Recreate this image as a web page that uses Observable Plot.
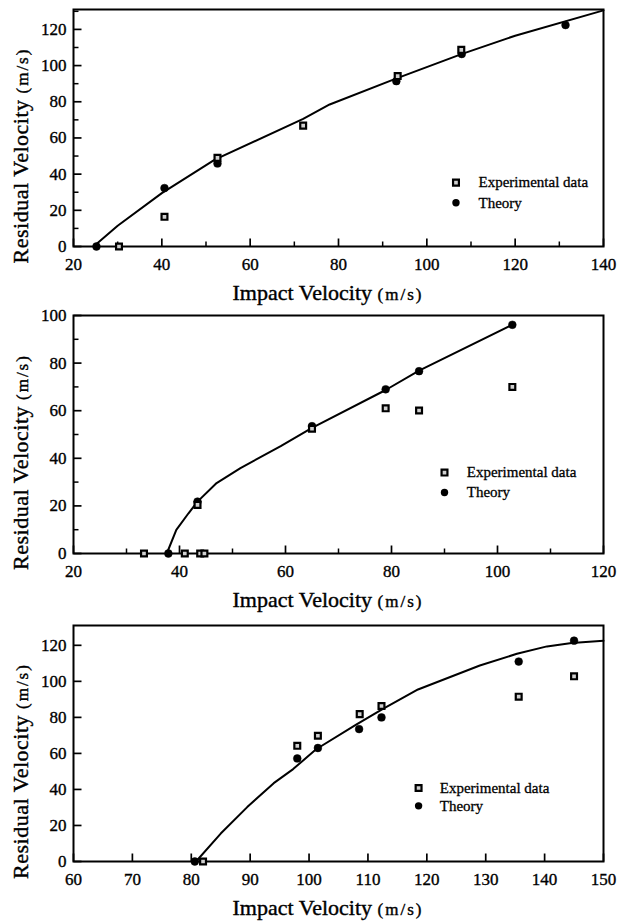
<!DOCTYPE html>
<html>
<head>
<meta charset="utf-8">
<script src="https://cdn.jsdelivr.net/npm/d3@7"></script>
<script src="https://cdn.jsdelivr.net/npm/@observablehq/plot@0.6"></script>
<style>
  html, body { margin: 0; padding: 0; background: #fff; }
  #chart { width: 621px; }
  #chart svg { display: block; }
</style>
</head>
<body>
<div id="chart"></div>
<script>
const p1CurveX = [25, 30, 40, 52, 72, 78, 93, 108, 120, 140];
const p1CurveY = [1, 11.5, 29.5, 48, 70.5, 78.5, 92.8, 106.5, 116.5, 130.5];
const p1ExpX = [30.3, 40.6, 52.6, 72.0, 93.4, 107.8];
const p1ExpY = [0, 16.4, 49.0, 66.8, 94.2, 108.7];
const p1TheoryX = [25.2, 40.6, 52.6, 93.1, 107.9, 131.4];
const p1TheoryY = [0, 32.3, 45.9, 91.4, 106.4, 122.4];
const p1XTicks = [20, 40, 60, 80, 100, 120, 140];
const p1XMinor = [30, 50, 70, 90, 110, 130];
const p1YTicks = [0, 20, 40, 60, 80, 100, 120];
const p1YMinor = [10, 30, 50, 70, 90, 110, 130];

const p2CurveX = [37.6, 39.4, 41.7, 43.4, 47, 51.5, 59.1, 65, 78.9, 85.2, 102.8];
const p2CurveY = [0, 9.9, 16.9, 21.8, 29.6, 35.9, 45.1, 52.8, 68.7, 76.8, 96.1];
const p2ExpX = [33.3, 41.0, 43.9, 44.7, 43.4, 65.0, 78.9, 85.2, 102.8];
const p2ExpY = [0, 0, 0, 0, 20.4, 52.4, 61.0, 60.1, 70.0];
const p2TheoryX = [37.9, 43.4, 65.0, 78.9, 85.2, 102.8];
const p2TheoryY = [0, 21.8, 53.5, 69.0, 76.6, 96.1];
const p2XTicks = [20, 40, 60, 80, 100, 120];
const p2XMinor = [30, 50, 70, 90, 110];
const p2YTicks = [0, 20, 40, 60, 80, 100];
const p2YMinor = [10, 30, 50, 70, 90];

const p3CurveX = [80.8, 85, 89.5, 94, 97.3, 101.2, 108, 112.4, 118.5, 129, 135.3, 140.4, 144.6, 150];
const p3CurveY = [0, 15.5, 30.2, 43.5, 51.3, 62.3, 76, 84.5, 95.5, 108.8, 115.3, 119.4, 121.3, 122.5];
const p3ExpX = [82.0, 98.0, 101.5, 108.6, 112.3, 135.6, 145.0];
const p3ExpY = [0, 64.2, 69.8, 81.8, 86.3, 91.5, 102.8];
const p3TheoryX = [80.6, 98.0, 101.5, 108.5, 112.3, 135.6, 145.0];
const p3TheoryY = [0, 57.2, 63.0, 73.5, 80.0, 111.0, 122.6];
const p3XTicks = [60, 70, 80, 90, 100, 110, 120, 130, 140, 150];
const p3XMinor = [];
const p3YTicks = [0, 20, 40, 60, 80, 100, 120];
const p3YMinor = [];

const legendLabels = ["Experimental data", "Theory"];
const xTitle = "Impact Velocity";
const yTitle = "Residual Velocity";
const unit = "(m/s)";

const FONT = "'Liberation Serif', 'Times New Roman', 'DejaVu Serif', serif";
const W = 621, ML = 73, MR = 18;

const panels = [
  {height: 307, mt: 9, mb: 61, xDomain: [20, 140], yDomain: [0, 131],
   curveX: p1CurveX, curveY: p1CurveY, expX: p1ExpX, expY: p1ExpY, thX: p1TheoryX, thY: p1TheoryY,
   xTicks: p1XTicks, xMinor: p1XMinor, yTicks: p1YTicks, yMinor: p1YMinor,
   legX: 106.6, legTextX: 111.7, legY: [35.3, 24.2]},
  {height: 307, mt: 8, mb: 61, xDomain: [20, 120], yDomain: [0, 100],
   curveX: p2CurveX, curveY: p2CurveY, expX: p2ExpX, expY: p2ExpY, thX: p2TheoryX, thY: p2TheoryY,
   xTicks: p2XTicks, xMinor: p2XMinor, yTicks: p2YTicks, yMinor: p2YMinor,
   legX: 90.0, legTextX: 94.2, legY: [34.0, 25.6]},
  {height: 308, mt: 11, mb: 61, xDomain: [60, 150], yDomain: [0, 131],
   curveX: p3CurveX, curveY: p3CurveY, expX: p3ExpX, expY: p3ExpY, thX: p3TheoryX, thY: p3TheoryY,
   xTicks: p3XTicks, xMinor: p3XMinor, yTicks: p3YTicks, yMinor: p3YMinor,
   legX: 118.6, legTextX: 122.2, legY: [40.8, 30.9]}
];

const chart = document.getElementById("chart");

for (const cfg of panels) {
  const innerH = cfg.height - cfg.mt - cfg.mb;
  const innerW = W - ML - MR;
  const [x0, x1] = cfg.xDomain;
  const [y0, y1] = cfg.yDomain;
  // inward tick lengths (8px major, 5px minor) expressed in data units
  const dyMajor = 8 / innerH * (y1 - y0), dyMinor = 5 / innerH * (y1 - y0);
  const dxMajor = 8 / innerW * (x1 - x0), dxMinor = 5 / innerW * (x1 - x0);

  const curve = cfg.curveX.map((x, i) => ({x, y: cfg.curveY[i]}));
  const exp = cfg.expX.map((x, i) => ({x, y: cfg.expY[i]}));
  const th = cfg.thX.map((x, i) => ({x, y: cfg.thY[i]}));
  const legSq = [{x: cfg.legX, y: cfg.legY[0]}];
  const legTh = [{x: cfg.legX, y: cfg.legY[1]}];
  const legText = legendLabels.map((t, i) => ({x: cfg.legTextX, y: cfg.legY[i], t}));
  const xMaj = cfg.xTicks.map(v => ({v})), xMin = cfg.xMinor.map(v => ({v}));
  const yMaj = cfg.yTicks.map(v => ({v})), yMin = cfg.yMinor.map(v => ({v}));

  const plot = Plot.plot({
    width: W,
    height: cfg.height,
    marginLeft: ML,
    marginRight: MR,
    marginTop: cfg.mt,
    marginBottom: cfg.mb,
    style: {fontFamily: FONT, background: "white", color: "black", overflow: "visible"},
    x: {domain: cfg.xDomain, label: null},
    y: {domain: cfg.yDomain, label: null},
    marks: [
      Plot.axisX({ticks: cfg.xTicks, tickSize: 0, tickPadding: 11, fontSize: 17, label: null,
                  tickFormat: d => String(d)}),
      Plot.axisY({ticks: cfg.yTicks, tickSize: 0, tickPadding: 7, fontSize: 17, label: null,
                  tickFormat: d => String(d)}),
      Plot.link(xMaj, {x1: "v", x2: "v", y1: () => y0, y2: () => y0 + dyMajor, stroke: "black", strokeWidth: 1.7}),
      Plot.link(xMin, {x1: "v", x2: "v", y1: () => y0, y2: () => y0 + dyMinor, stroke: "black", strokeWidth: 1.5}),
      Plot.link(yMaj, {y1: "v", y2: "v", x1: () => x0, x2: () => x0 + dxMajor, stroke: "black", strokeWidth: 1.7}),
      Plot.link(yMin, {y1: "v", y2: "v", x1: () => x0, x2: () => x0 + dxMinor, stroke: "black", strokeWidth: 1.5}),
      Plot.frame({stroke: "black", strokeWidth: 2}),
      Plot.line(curve, {x: "x", y: "y", stroke: "black", strokeWidth: 2}),
      Plot.dot(th, {x: "x", y: "y", r: 3.9, fill: "black", stroke: "black", strokeWidth: 0.5}),
      Plot.dot(exp, {x: "x", y: "y", symbol: "square", r: 3.3, fill: "#d0d0d0", stroke: "black", strokeWidth: 2.2}),
      Plot.dot(legSq, {x: "x", y: "y", symbol: "square", r: 3.3, fill: "#d0d0d0", stroke: "black", strokeWidth: 2.2}),
      Plot.dot(legTh, {x: "x", y: "y", r: 3.7, fill: "black"}),
      Plot.text(legText, {x: "x", y: "y", text: "t", textAnchor: "start", fontSize: 15, fill: "black",
                          stroke: "black", strokeWidth: 0.3})
    ]
  });

  const svg = d3.select(plot);
  svg.selectAll("g[aria-label='x-axis tick label'], g[aria-label='y-axis tick label']")
    .attr("stroke", "black").attr("stroke-width", 0.35);

  const xr = plot.scale("x").range;
  const yr = plot.scale("y").range;
  const frameBottom = Math.max(yr[0], yr[1]);
  const frameTop = Math.min(yr[0], yr[1]);
  const cx = (xr[0] + xr[1]) / 2 - 10;
  const cy = (frameTop + frameBottom) / 2 + 28;

  const xt = svg.append("text")
    .attr("x", cx).attr("y", frameBottom + 54)
    .attr("text-anchor", "middle").attr("font-family", FONT)
    .attr("fill", "black").attr("stroke", "black").attr("stroke-width", 0.4);
  xt.append("tspan").attr("font-size", 22).text(xTitle + " ");
  xt.append("tspan").attr("font-size", 17).attr("letter-spacing", 2).text(unit);

  const yt = svg.append("text")
    .attr("transform", `translate(28,${cy}) rotate(-90)`)
    .attr("text-anchor", "middle").attr("font-family", FONT)
    .attr("fill", "black").attr("stroke", "black").attr("stroke-width", 0.4);
  yt.append("tspan").attr("font-size", 22).attr("letter-spacing", 0.5).text(yTitle + " ");
  yt.append("tspan").attr("font-size", 17).attr("letter-spacing", 2).text(unit);

  chart.appendChild(plot);
}
</script>
</body>
</html>
